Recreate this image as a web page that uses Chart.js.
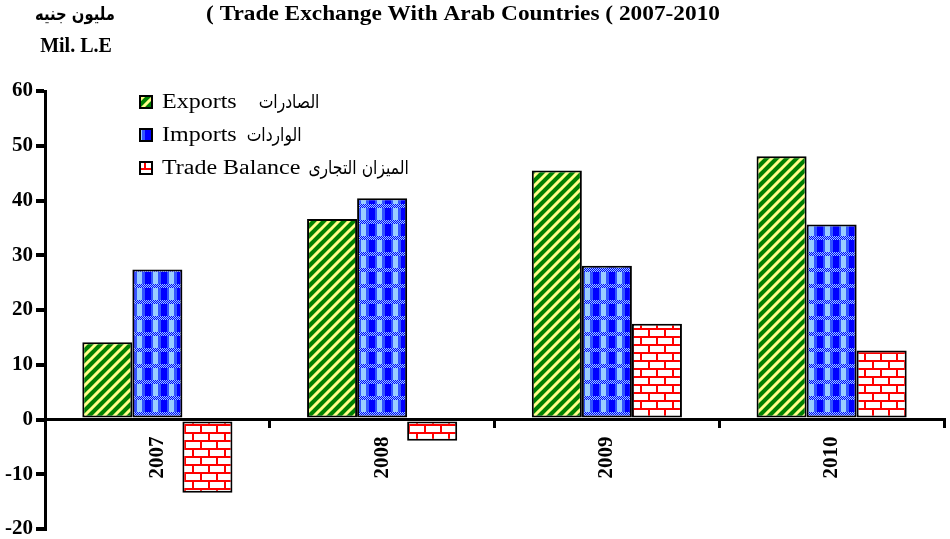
<!DOCTYPE html>
<html>
<head>
<meta charset="utf-8">
<script src="https://cdn.jsdelivr.net/npm/chart.js@4.4.1/dist/chart.umd.min.js"></script>
<style>
  body { margin: 0; background: #fff; }
  #wrap { width: 950px; height: 539px; position: relative; }
</style>
</head>
<body>
<div id="wrap"><canvas id="mycanvas"></canvas></div>
<script>
// years on the category axis
var years = ['2007', '2008', '2009', '2010'];
// values in million L.E
var exportsVals = [14.1, 36.6, 45.5, 48.1];
var importsVals = [27.4, 40.4, 28.1, 35.6];
var balanceVals = [-13.4, -3.9, 17.5, 12.6];
// value axis
var yMin = -20, yMax = 60, yStep = 10;

// legend names: english part, arabic part
var namesEn = ['Exports', 'Imports', 'Trade Balance'];
var namesAr = ['الصادرات', 'الواردات', 'الميزان التجارى'];
var nameGaps = [22, 10, 8];

// hatch fills built from small tiles
function makeTile(kind) {
	var c = document.createElement('canvas');
	var g = c.getContext('2d');
	if (kind == 'stripes') {
		c.width = 10; c.height = 10;
		g.fillStyle = '#008000';
		g.fillRect(0, 0, 10, 10);
		g.strokeStyle = '#ffff88';
		g.lineWidth = 3;
		g.beginPath();
		g.moveTo(-5, 5); g.lineTo(5, -5);
		g.moveTo(0, 10); g.lineTo(10, 0);
		g.moveTo(5, 15); g.lineTo(15, 5);
		g.stroke();
	} else if (kind == 'checks') {
		c.width = 16; c.height = 16;
		g.fillStyle = '#3355ff';
		g.fillRect(0, 0, 16, 16);
		g.fillStyle = '#0000ff';
		g.fillRect(1, 0, 6, 12);
		g.fillStyle = '#99ccff';
		g.fillRect(9, 0, 5, 12);
		for (var yy = 12; yy < 16; yy++) {
			for (var xx = 0; xx < 16; xx++) {
				g.fillStyle = ((xx + yy) % 2) ? '#0000ff' : '#99ccff';
				g.fillRect(xx, yy, 1, 1);
			}
		}
	} else {
		c.width = 16; c.height = 16;
		g.fillStyle = '#ffffff';
		g.fillRect(0, 0, 16, 16);
		g.fillStyle = '#ff0000';
		g.fillRect(0, 0, 16, 2);
		g.fillRect(0, 8, 16, 2);
		g.fillRect(0, 0, 2, 8);
		g.fillRect(8, 8, 2, 8);
	}
	return g.createPattern(c, 'repeat');
}

var fills = [makeTile('stripes'), makeTile('checks'), makeTile('bricks')];

var serif = '"Liberation Serif", "Times New Roman", serif';
var arabic = '"DejaVu Sans", sans-serif';

// text drawn wider or narrower than the font's own width
function wideText(ctx, txt, x, y, sx) {
	ctx.save();
	ctx.translate(x, y);
	ctx.scale(sx, 1);
	ctx.fillText(txt, 0, 0);
	ctx.restore();
}

// title, unit and legend inside the plot
var decor = {
	id: 'decor',
	afterDraw: function(chart) {
		var ctx = chart.ctx;
		ctx.save();
		ctx.fillStyle = '#000';
		ctx.textBaseline = 'middle';
		ctx.textAlign = 'center';
		ctx.font = 'bold 21px ' + serif;
		wideText(ctx, '( Trade Exchange With Arab Countries ( 2007-2010', 463, 15, 1.11);
		ctx.font = 'bold 18px ' + arabic;
		wideText(ctx, 'مليون جنيه', 75, 15, 0.82);
		ctx.font = 'bold 20px ' + serif;
		ctx.fillText('Mil. L.E', 76, 47);

		ctx.textAlign = 'left';
		for (var i = 0; i < chart.data.datasets.length; i++) {
			var y = 96 + i * 33;
			ctx.fillStyle = fills[i];
			ctx.fillRect(140, y, 12, 12);
			ctx.strokeStyle = '#000';
			ctx.lineWidth = 2;
			ctx.strokeRect(140, y, 12, 12);
			ctx.fillStyle = '#000';
			ctx.font = '20px ' + serif;
			var w = ctx.measureText(namesEn[i]).width * 1.2;
			wideText(ctx, namesEn[i], 162, y + 7, 1.2);
			ctx.font = '19px ' + arabic;
			wideText(ctx, namesAr[i], 162 + w + nameGaps[i], y + 7, 0.82);
		}
		ctx.restore();
	}
};

var chartdata = {
	labels: years,
	datasets: [
		{ label: namesEn[0] + ' ' + namesAr[0], data: exportsVals, backgroundColor: fills[0] },
		{ label: namesEn[1] + ' ' + namesAr[1], data: importsVals, backgroundColor: fills[1] },
		{ label: namesEn[2] + ' ' + namesAr[2], data: balanceVals, backgroundColor: fills[2] }
	]
};
chartdata.datasets.forEach(function(ds) {
	ds.borderColor = '#000';
	ds.borderWidth = 2;
	ds.borderSkipped = false;
	ds.categoryPercentage = 0.668;
	ds.barPercentage = 1;
});

var ctx = document.getElementById('mycanvas');
var barGraph = new Chart(ctx, {
	type: 'bar',
	data: chartdata,
	plugins: [decor],
	options: {
		responsive: true,
		maintainAspectRatio: false,
		animation: false,
		layout: { padding: { top: 91, bottom: 10, right: 6, left: 0 } },
		plugins: {
			legend: { display: false },
			tooltip: { enabled: false }
		},
		scales: {
			x: {
				position: { y: 0 },
				grid: { display: true, drawOnChartArea: false, offset: true, tickLength: 7, color: '#000', lineWidth: 3 },
				border: { display: true, color: '#000', width: 3 },
				ticks: {
					minRotation: 90, maxRotation: 90, padding: 10,
					color: '#000',
					font: { family: serif, size: 21, weight: 'bold' }
				}
			},
			y: {
				min: yMin, max: yMax,
				afterFit: function(scale) {
					scale.width = 45;
					scale.paddingTop = 0;
					scale.paddingBottom = 0;
				},
				grid: { display: true, drawOnChartArea: false, tickLength: 9, color: '#000', lineWidth: 4 },
				border: { display: true, color: '#000', width: 3 },
				ticks: {
					stepSize: yStep, padding: 3,
					color: '#000',
					font: { family: serif, size: 21, weight: 'bold' }
				}
			}
		}
	}
});
</script>
</body>
</html>
